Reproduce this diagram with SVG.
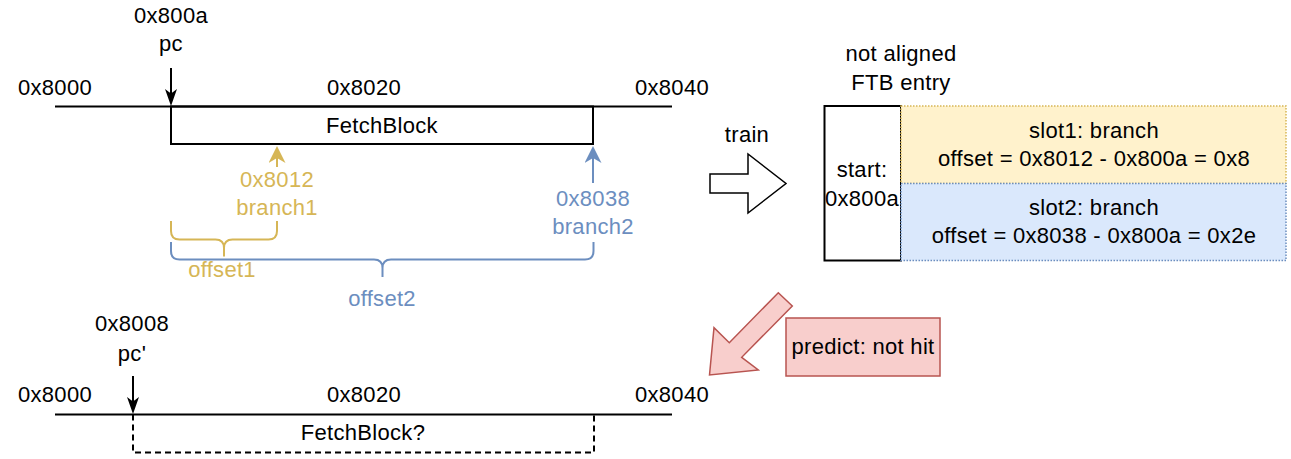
<svg xmlns="http://www.w3.org/2000/svg" width="1291" height="459" viewBox="0 0 1291 459">
<style>
text{font-family:"Liberation Sans",Arial,sans-serif;font-size:22px;letter-spacing:0.3px;text-anchor:middle;fill:#000}
.gold{fill:#d6b656}
.blue{fill:#6c8ebf}
.ln{stroke:#000;stroke-width:2;fill:none}
.goldln{stroke:#d6b656;stroke-width:2;fill:none}
.blueln{stroke:#6c8ebf;stroke-width:2;fill:none}
</style>
<defs>
<marker id="ab" viewBox="0 0 17 12" refX="9" refY="6" markerWidth="17" markerHeight="12" markerUnits="userSpaceOnUse" orient="auto">
<path d="M0,0 L17,6 L0,12 L4.5,6 Z" fill="#000"/>
</marker>
<marker id="ag" viewBox="0 0 17 17" refX="9" refY="8.5" markerWidth="17" markerHeight="17" markerUnits="userSpaceOnUse" orient="auto">
<path d="M0,0 L17,8.5 L0,17 L5,8.5 Z" fill="#d6b656"/>
</marker>
<marker id="au" viewBox="0 0 17 17" refX="9" refY="8.5" markerWidth="17" markerHeight="17" markerUnits="userSpaceOnUse" orient="auto">
<path d="M0,0 L17,8.5 L0,17 L5,8.5 Z" fill="#6c8ebf"/>
</marker>
</defs>

<g id="top-timeline">
<line class="ln" x1="55" y1="106.5" x2="672" y2="106.5"/>
<text x="55" y="95">0x8000</text>
<text x="364" y="95">0x8020</text>
<text x="672" y="95">0x8040</text>
</g>
<g id="fetchblock">
<rect class="ln" x="171" y="106.5" width="422" height="37.5"/>
<text x="382" y="133">FetchBlock</text>
</g>
<g id="pc-label">
<text x="171" y="23">0x800a</text>
<text x="171" y="51">pc</text>
</g>
<g id="branch1">
<text class="gold" x="277" y="187">0x8012</text>
<text class="gold" x="277" y="215">branch1</text>
</g>
<g id="branch2">
<text class="blue" x="593" y="206">0x8038</text>
<text class="blue" x="593" y="234">branch2</text>
</g>
<g id="offset1">
<path class="goldln" d="M171,221 V231 Q171,239.5 179.5,239.5 H215.5 Q224,239.5 224,248 V256.5 M224,248 Q224,239.5 232.5,239.5 H268.5 Q277,239.5 277,231 V221"/>
<text class="gold" x="222" y="277">offset1</text>
</g>
<g id="offset2">
<path class="blueln" d="M171,242 V251 Q171,259.5 179.5,259.5 H374 Q382.5,259.5 382.5,268 V277 M382.5,268 Q382.5,259.5 391,259.5 H585 Q593.5,259.5 593.5,251 V242"/>
<text class="blue" x="382" y="306">offset2</text>
</g>

<g id="bottom-timeline">
<line class="ln" x1="55" y1="414.5" x2="672" y2="414.5"/>
<text x="55" y="402">0x8000</text>
<text x="364" y="402">0x8020</text>
<text x="672" y="402">0x8040</text>
</g>
<g id="fetchblock2">
<path class="ln" d="M133,414.5 V452.5 H594 V414.5" stroke-dasharray="6 4"/>
<text x="363" y="440">FetchBlock?</text>
</g>
<g id="pc2-label">
<text x="132" y="331">0x8008</text>
<text x="132" y="361">pc'</text>
</g>

<g id="ftb-entry">
<text x="901" y="61">not aligned</text>
<text x="901" y="90">FTB entry</text>
<rect x="824.5" y="106" width="76.5" height="154.5" fill="#fff" stroke="#000" stroke-width="2"/>
<text x="862" y="177">start:</text>
<text x="862" y="206">0x800a</text>
</g>
<g id="slot1">
<rect x="901" y="106" width="385" height="77.5" fill="#fff2cc" stroke="#d6b656" stroke-width="1.5" stroke-dasharray="1.5 1.5"/>
<text x="1094" y="137.5">slot1: branch</text>
<text x="1094" y="165.5">offset = 0x8012 - 0x800a = 0x8</text>
</g>
<g id="slot2">
<rect x="901" y="183.5" width="385" height="77" fill="#dae8fc" stroke="#6c8ebf" stroke-width="1.5" stroke-dasharray="1.5 1.5"/>
<text x="1094" y="215">slot2: branch</text>
<text x="1094" y="243">offset = 0x8038 - 0x800a = 0x2e</text>
</g>

<g id="train">
<polygon points="710,174 748,174 748,154 786,183.5 748,213 748,193 710,193" fill="#fff" stroke="#000" stroke-width="1.5"/>
<text x="747" y="142">train</text>
</g>
<g id="predict-arrow">
<polygon points="709.5,375 714,327.7 729.3,342.7 778.3,292.7 792.3,306 741.7,357.3 758.3,370" fill="#f8cecc" stroke="#b85450" stroke-width="1.5" stroke-linejoin="miter"/>
</g>
<g id="predict">
<rect x="786" y="318" width="154" height="58" fill="#f8cecc" stroke="#b85450" stroke-width="1.5"/>
<text x="863" y="354">predict: not hit</text>
</g>

<g id="connectors">
<line class="ln" x1="171" y1="68" x2="171" y2="98" marker-end="url(#ab)"/>
<line class="ln" x1="133" y1="376" x2="133" y2="406" marker-end="url(#ab)"/>
<line class="goldln" x1="277" y1="167" x2="277" y2="154" marker-end="url(#ag)"/>
<line class="blueln" x1="593" y1="183" x2="593" y2="154" marker-end="url(#au)"/>
</g>
</svg>
